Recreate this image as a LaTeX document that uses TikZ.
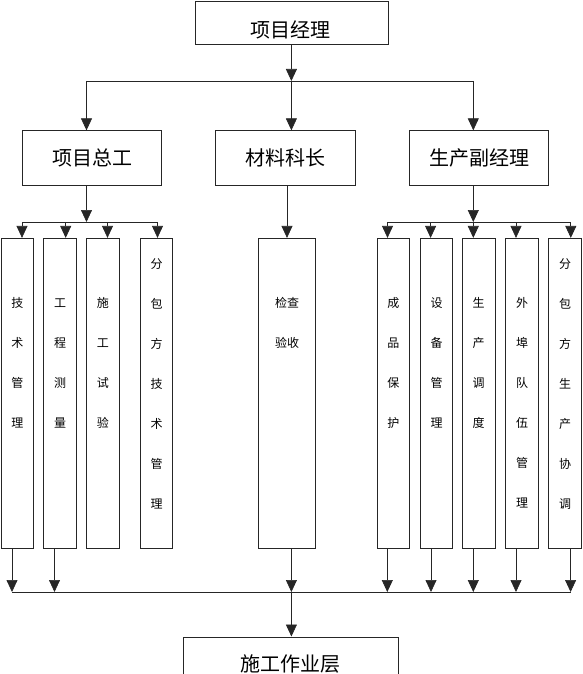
\documentclass[tikz,border=0pt]{standalone}
\usepackage{fontspec}
\setmainfont{Noto Sans CJK SC}
\usetikzlibrary{arrows.meta}
\begin{document}
\begin{tikzpicture}[x=1pt,y=-1pt,
  box/.style={draw=black!85,line width=0.7pt,rectangle,inner sep=0pt},
  big/.style={font=\fontsize{20}{24}\selectfont,inner sep=0pt},
  vtxt/.style={font=\fontsize{12}{40}\selectfont,align=center,inner sep=0pt},
  ln/.style={draw=black!85,line width=0.7pt},
  arr/.style={ln,-{Triangle[width=11pt,length=12pt]}}]
\useasboundingbox (0,0) rectangle (582,674);
% top
\node[box,minimum width=193pt,minimum height=42.5pt] (top) at (291.5,23) {};
\node[big] (ttop) at (290.5,29.7) {项目经理};
% second level
\node[box,big,minimum width=139.5pt,minimum height=54.2pt] (A) at (92,157.8) {项目总工};
\node[box,big,minimum width=140pt,minimum height=54.2pt] (B) at (285.3,157.8) {材料科长};
\node[box,big,minimum width=139.2pt,minimum height=54.2pt] (C) at (479,157.8) {生产副经理};
% vertical boxes
\foreach \n/\cx/\w in {a/17.5/31.6, b/60/33.4, c/102.9/32.3, d/156.7/32, e/287/57.4,
  f/393.3/32, g/436.5/32.4, h/478.7/32.7, i/522/32.6, j/565.2/33}
  \node[box,minimum width=\w pt,minimum height=310.5pt] (\n) at (\cx,393.5) {};
\node[vtxt] (ta) at (17.5,363) {技\\术\\管\\理};
\node[vtxt] (tb) at (60,363) {工\\程\\测\\量};
\node[vtxt] (tc) at (102.9,363) {施\\工\\试\\验};
\node[vtxt] (td) at (156.7,384) {分\\包\\方\\技\\术\\管\\理};
\node[vtxt] (te) at (287,323) {检查\\验收};
\node[vtxt] (tf) at (393.3,363) {成\\品\\保\\护};
\node[vtxt] (tg) at (436.5,363) {设\\备\\管\\理};
\node[vtxt] (th) at (478.7,363) {生\\产\\调\\度};
\node[vtxt] (ti) at (522,403) {外\\埠\\队\\伍\\管\\理};
\node[vtxt] (tj) at (565.2,384) {分\\包\\方\\生\\产\\协\\调};
% bottom
\node[box,minimum width=214.6pt,minimum height=60pt,anchor=north] (bot) at (291,636.5) {};
\node[big] (tbot) at (290.5,664) {施工作业层};
% level 1 connectors
\coordinate (t1) at (291.4,81);
\coordinate (t1L) at (86.5,81);
\coordinate (t1R) at (473.3,81);
\draw[arr] (top.south -| t1) -- (t1);
\draw[ln] (t1L) -- (t1R);
\draw[arr] (t1L) -- (A.north -| t1L);
\draw[arr] (t1) -- (B.north -| t1);
\draw[arr] (t1R) -- (C.north -| t1R);
% left group
\coordinate (l0) at (86.5,222);
\coordinate (la) at (22,222);
\coordinate (lb) at (65.7,222);
\coordinate (lc) at (107.5,222);
\coordinate (ld) at (157.5,222);
\draw[arr] (A.south -| l0) -- (l0);
\draw[ln] (la) -- (ld);
\foreach \p/\b in {la/a, lb/b, lc/c, ld/d} \draw[arr] (\p) -- (\b.north -| \p);
% middle
\coordinate (m0) at (287,222);
\draw[arr] (B.south -| m0) -- (e.north -| m0);
% right group
\coordinate (r0) at (473.3,222);
\coordinate (rf) at (387.5,222);
\coordinate (rg) at (430.6,222);
\coordinate (rh) at (473.3,222);
\coordinate (ri) at (516,222);
\coordinate (rj) at (570.8,222);
\draw[arr] (C.south -| r0) -- (r0);
\draw[ln] (rf) -- (rj);
\foreach \p/\b in {rf/f, rg/g, rh/h, ri/i, rj/j} \draw[arr] (\p) -- (\b.north -| \p);
% bottom bar
\coordinate (qa) at (12,592);
\coordinate (qb) at (54.5,592);
\coordinate (qe) at (291.4,592);
\coordinate (qf) at (387.3,592);
\coordinate (qg) at (431,592);
\coordinate (qh) at (473.3,592);
\coordinate (qi) at (516,592);
\coordinate (qj) at (570.6,592);
\foreach \p/\b in {qa/a, qb/b, qe/e, qf/f, qg/g, qh/h, qi/i, qj/j} \draw[arr] (\b.south -| \p) -- (\p);
\draw[ln] (qa) -- (qj);
\draw[arr] (qe) -- (bot.north -| qe);
\end{tikzpicture}
\end{document}
